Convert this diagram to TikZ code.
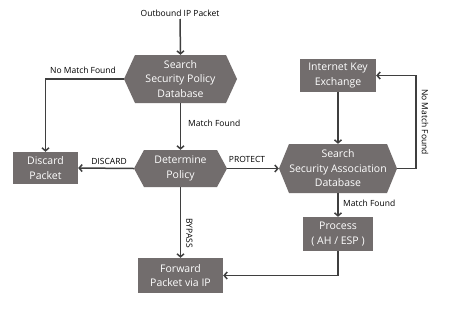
\documentclass[tikz,border=0pt]{standalone}
\usepackage{fontspec}
\setmainfont{Open Sans}
\usetikzlibrary{arrows.meta,calc}
\definecolor{boxgray}{HTML}{726D6D}
\definecolor{linegray}{HTML}{3F3F3F}
\tikzset{
  box/.style={fill=boxgray,text=white,font=\fontsize{10.5}{14.5}\selectfont,align=center,inner sep=0pt},
  hexa/.style={inner sep=0pt,text=white,font=\fontsize{10.5}{14.5}\selectfont,align=center,
    path picture={\fill[boxgray]
      ([xshift=#1]path picture bounding box.north west) --
      ([xshift=-#1]path picture bounding box.north east) --
      (path picture bounding box.east) --
      ([xshift=-#1]path picture bounding box.south east) --
      ([xshift=#1]path picture bounding box.south west) --
      (path picture bounding box.west) -- cycle;}},
  hexa/.default=10pt,
  conn/.style={draw=linegray,line width=1.5pt,-{Straight Barb[length=3pt,width=7pt,line width=1.5pt]}},
  lbl/.style={font=\fontsize{8.5}{10}\selectfont,text=black,inner sep=1pt}
}
\begin{document}
\begin{tikzpicture}[x=1pt,y=-1pt]
\useasboundingbox[fill=white] (0,0) rectangle (454,314);
\node[lbl] (outlbl) at (180,13) {Outbound IP Packet};
\coordinate (start) at (180,19);
\node[hexa=11pt,minimum width=113pt,minimum height=48pt] (spd) at (180.5,79) {Search\\Security Policy\\Database};
\node[box,minimum width=76pt,minimum height=33pt] (ike) at (338,75.5) {Internet Key\\Exchange};
\node[box,minimum width=65pt,minimum height=32pt] (discard) at (45.5,168) {Discard\\Packet};
\node[hexa=10pt,minimum width=93pt,minimum height=37pt] (dp) at (180.5,168.5) {Determine\\Policy};
\node[hexa=10pt,minimum width=118pt,minimum height=49pt] (sad) at (338,168.5) {Search\\Security Association\\Database};
\node[box,minimum width=70pt,minimum height=34pt] (proc) at (338,234) {Process\\( AH / ESP )};
\node[box,minimum width=85pt,minimum height=35pt] (fwd) at (180.5,275.5) {Forward\\Packet via IP};
\coordinate (rt) at (416,168.5);

\draw[conn] (start) -- (spd.north);
\draw[conn] (spd.west) -| (discard.north);
\node[lbl] (nm1) at (83,70) {No Match Found};
\draw[conn] (spd.south) -- (dp.north);
\node[lbl,anchor=west] (mf1) at (187,123) {Match Found};
\draw[conn] (dp.west) -- (discard.east);
\node[lbl] (dis) at (109,161) {DISCARD};
\draw[conn] (dp.east) -- (sad.west);
\node[lbl] (prot) at (247,159) {PROTECT};
\draw[conn] (ike.south) -- (sad.north);
\draw[conn] (sad.east) -- (rt) |- (ike.east);
\node[lbl,rotate=-90] (nm2) at (425,122) {No Match Found};
\draw[conn] (sad.south) -- (proc.north);
\node[lbl,anchor=west] (mf2) at (342,203) {Match Found};
\draw[conn] (dp.south) -- (fwd.north);
\node[lbl,rotate=-90] (byp) at (189.5,233) {BYPASS};
\draw[conn] (proc.south) |- (fwd.east);
\end{tikzpicture}
\end{document}
